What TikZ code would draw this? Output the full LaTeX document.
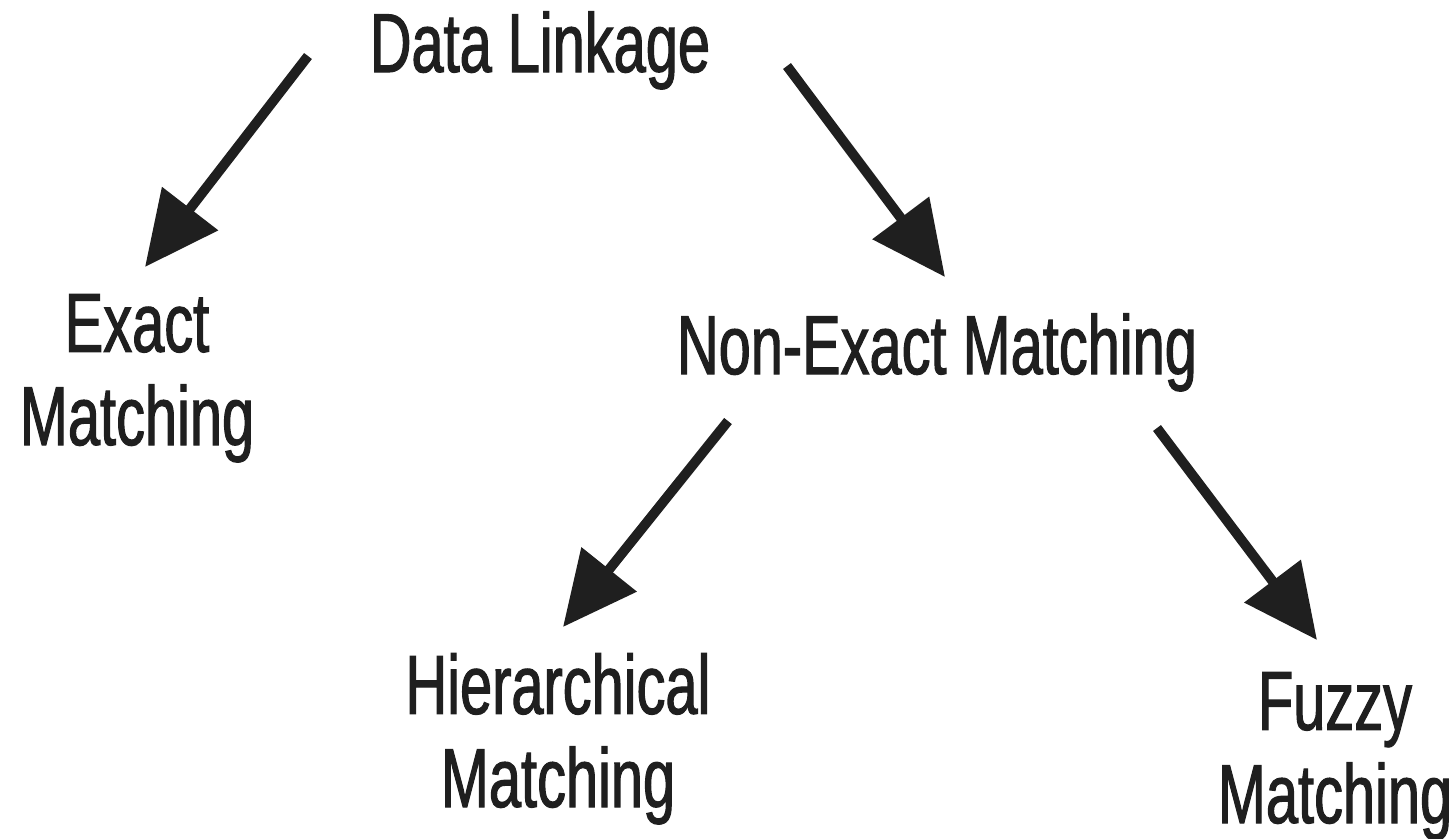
\documentclass[tikz,border=0pt]{standalone}
\usepackage{fontspec}
\setmainfont{Liberation Sans}[FakeStretch=0.69,FakeBold=1.3]
\usetikzlibrary{arrows.meta}
\begin{document}
\begin{tikzpicture}[x=0.01cm,y=-0.01cm,
  lbl/.style={anchor=base,align=center,inner sep=0pt,text=black!88,
    font=\fontsize{23.8}{26.5}\selectfont},
  arr/.style={line width=2.8pt,draw=black!88,
    -{Triangle[length=21pt,width=19.5pt]}}]
\useasboundingbox (0,0) rectangle (1456,838);
\node[lbl] (dl) at (540,72) {Data Linkage};
\node[lbl] (exact) at (137,445) {Exact\\Matching};
\node[lbl] (nonexact) at (937,374) {Non-Exact Matching};
\node[lbl] (hier) at (558,807) {Hierarchical\\Matching};
\node[lbl] (fuzzy) at (1335,823) {Fuzzy\\Matching};
\coordinate (a1s) at (308,56);
\coordinate (a1e) at (145,267);
\coordinate (a2s) at (787,66);
\coordinate (a2e) at (945,277);
\coordinate (a3s) at (728,421);
\coordinate (a3e) at (563,627);
\coordinate (a4s) at (1157,428);
\coordinate (a4e) at (1317,640);
\draw[arr] (a1s) -- (a1e);
\draw[arr] (a2s) -- (a2e);
\draw[arr] (a3s) -- (a3e);
\draw[arr] (a4s) -- (a4e);
\end{tikzpicture}
\end{document}
